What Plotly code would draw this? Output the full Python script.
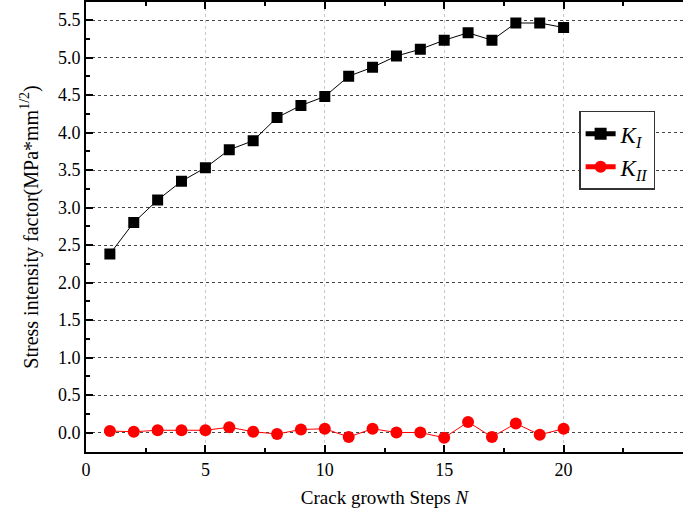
import plotly.graph_objects as go

steps = list(range(1, 21))
k1 = [2.38, 2.80, 3.10, 3.35, 3.53, 3.77, 3.89, 4.20, 4.36, 4.48,
      4.75, 4.87, 5.02, 5.11, 5.23, 5.33, 5.23, 5.46, 5.46, 5.40]
k2 = [0.02, 0.01, 0.03, 0.03, 0.03, 0.07, 0.01, -0.02, 0.04, 0.05,
      -0.06, 0.05, 0.00, 0.00, -0.07, 0.14, -0.06, 0.12, -0.03, 0.05]
y_ticks = [0.0, 0.5, 1.0, 1.5, 2.0, 2.5, 3.0, 3.5, 4.0, 4.5, 5.0, 5.5]
x_ticks = [0, 5, 10, 15, 20]

font_family = "Liberation Serif"

fig = go.Figure()
fig.add_trace(go.Scatter(
    x=steps, y=k1, mode="lines+markers", name="<i>K</i><sub><i>I</i></sub>",
    line=dict(color="black", width=1),
    marker=dict(symbol="square", size=11, color="black"),
))
fig.add_trace(go.Scatter(
    x=steps, y=k2, mode="lines+markers", name="<i>K</i><sub><i>II</i></sub>",
    line=dict(color="red", width=1),
    marker=dict(symbol="circle", size=12, color="red"),
))

fig.update_layout(
    width=683, height=516,
    margin=dict(l=86, r=0, t=2, b=64),
    plot_bgcolor="white", paper_bgcolor="white",
    font=dict(family=font_family, size=18, color="black"),
    showlegend=True,
    legend=dict(
        x=0.826, y=0.758, xanchor="left", yanchor="top",
        bordercolor="#333333", borderwidth=1.5, bgcolor="white",
        font=dict(family=font_family, size=23),
        itemsizing="constant", tracegroupgap=0,
    ),
    xaxis=dict(
        range=[0, 25.0], tickvals=x_ticks, ticktext=[str(v) for v in x_ticks],
        showline=True, linecolor="black", linewidth=2, mirror="ticks",
        ticks="inside", ticklen=7, tickwidth=1.5, tickcolor="black",
        minor=dict(ticks="inside", dtick=2.5, tick0=0, ticklen=4, tickcolor="black", showgrid=False),
        showgrid=True, gridcolor="#c8c8c8", griddash="dot", gridwidth=1,
        zeroline=False,
        title=dict(text="Crack growth Steps <i>N</i>", font=dict(size=19), standoff=12),
        tickfont=dict(size=18),
    ),
    yaxis=dict(
        range=[-0.26, 5.74], tickvals=y_ticks, ticktext=["%.1f" % v for v in y_ticks],
        showline=True, linecolor="black", linewidth=2, mirror=False,
        ticks="inside", ticklen=7, tickwidth=1.5, tickcolor="black",
        minor=dict(ticks="inside", dtick=0.25, tick0=0, ticklen=4, tickcolor="black", showgrid=False),
        showgrid=True, gridcolor="#444444", griddash="dot", gridwidth=1,
        zeroline=False,
        title=dict(text="Stress intensity factor(MPa*mm<sup>1/2</sup>)", font=dict(size=20), standoff=14),
        tickfont=dict(size=18),
    ),
)

fig.write_html("out.html")
